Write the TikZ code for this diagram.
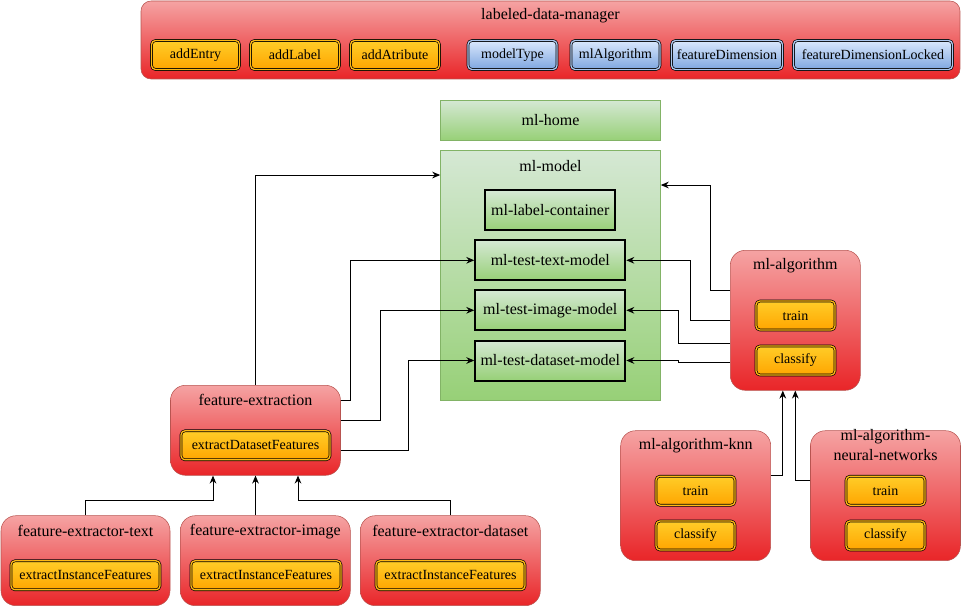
\documentclass[tikz,border=0pt]{standalone}
\usepackage{fontspec}
\setmainfont{Liberation Serif}
\usetikzlibrary{arrows.meta}
\newdimen\unitpx \unitpx=0.75pt

\definecolor{redtop}{HTML}{F5A3A3}
\definecolor{redbot}{HTML}{E92528}
\definecolor{redline}{HTML}{B85450}
\definecolor{orgtop}{HTML}{FFCD28}
\definecolor{orgbot}{HTML}{FFA500}
\definecolor{bluetop}{HTML}{DAE8FC}
\definecolor{bluebot}{HTML}{7EA6E0}
\definecolor{grntop}{HTML}{D5E8D4}
\definecolor{grnbot}{HTML}{97D077}
\definecolor{grnline}{HTML}{82B366}

\tikzset{
  comp/.style 2 args={draw=redline, rounded corners=15\unitpx, top color=redtop, bottom color=redbot,
    minimum width=#1\unitpx, minimum height=#2\unitpx, inner sep=0pt},
  pane/.style 2 args={draw=grnline, top color=grntop, bottom color=grnbot,
    minimum width=#1\unitpx, minimum height=#2\unitpx, inner sep=0pt},
  part/.style={draw=black, line width=1.5pt, top color=grntop, bottom color=grnbot,
    minimum width=#1\unitpx, minimum height=40\unitpx, inner sep=0pt},
  method/.style={draw=black, double=orgtop!50!orgbot, double distance=1pt, line width=0.5pt,
    rounded corners=4\unitpx, top color=orgtop, bottom color=orgbot,
    minimum width=#1\unitpx, minimum height=29\unitpx, inner sep=0pt, font=\fontsize{10.5}{12}\selectfont},
  field/.style={method=#1, double=bluetop!50!bluebot, top color=bluetop, bottom color=bluebot},
  title/.style={inner sep=0pt, align=center},
  arr/.style={draw=black, line width=0.75pt, -{Stealth[length=6pt,width=5pt]}}
}

\begin{document}
\begin{tikzpicture}[x=0.75pt,y=-0.75pt,font=\fontsize{12}{15}\selectfont]
\useasboundingbox (0,0) rectangle (961,606);

% labeled-data-manager
\node[comp={819}{78}, rounded corners=10\unitpx] (ldm) at (550.5,40) {};
\node[title] (ldm-t) at ([yshift=-15\unitpx]ldm.north) {labeled-data-manager};
\node[method=88] (add-entry) at (195.5,55) {addEntry};
\node[method=89] (add-label) at (295,55) {addLabel};
\node[method=89] (add-atr) at (395,55) {addAtribute};
\node[field=89] (model-type) at (512.5,55) {modelType};
\node[field=89] (ml-algo) at (615.5,55) {mlAlgorithm};
\node[field=111] (feat-dim) at (727,55) {featureDimension};
\node[field=159] (feat-lock) at (873,55) {featureDimensionLocked};

% ml-home and ml-model
\node[pane={220}{40}] (home) at (550.5,120.3) {ml-home};
\node[pane={220}{250}] (model) at (550.5,275.3) {};
\node[title] (model-t) at ([yshift=-15.5\unitpx]model.north) {ml-model};
\node[part=130] (label-box) at (550.3,210.5) {ml-label-container};
\node[part=150] (t-text) at (550.3,260.3) {ml-test-text-model};
\node[part=150] (t-image) at (550.3,310.3) {ml-test-image-model};
\node[part=150] (t-data) at (550.3,360.5) {ml-test-dataset-model};

% feature extraction
\node[comp={170}{90}] (fx) at (255.5,430.3) {};
\node[title] (fx-t) at ([yshift=-15\unitpx]fx.north) {feature-extraction};
\node[method=149] (fx-m) at (255.5,445.3) {extractDatasetFeatures};

\node[comp={169}{90}] (fx-text) at (85.5,560.7) {};
\node[title] (fx-text-t) at ([yshift=-16\unitpx]fx-text.north) {feature-extractor-text};
\node[method=149] (fx-text-m) at (85.5,575.3) {extractInstanceFeatures};

\node[comp={170}{90}] (fx-img) at (265.3,560.7) {};
\node[title] (fx-img-t) at ([yshift=-16\unitpx]fx-img.north) {feature-extractor-image};
\node[method=150] (fx-img-m) at (266,575.3) {extractInstanceFeatures};

\node[comp={180}{90}] (fx-data) at (450.3,560.7) {};
\node[title] (fx-data-t) at ([yshift=-16\unitpx]fx-data.north) {feature-extractor-dataset};
\node[method=149] (fx-data-m) at (450.5,575.3) {extractInstanceFeatures};

% ml algorithms
\node[comp={130}{140}] (algo) at (795.3,320.3) {};
\node[title] (algo-t) at ([yshift=-16\unitpx]algo.north) {ml-algorithm};
\node[method=79] (algo-train) at (795.5,315.5) {train};
\node[method=79] (algo-cls) at (795.5,360.5) {classify};

\node[comp={150}{130}] (knn) at (695.7,495.7) {};
\node[title] (knn-t) at ([yshift=-15\unitpx]knn.north) {ml-algorithm-knn};
\node[method=79] (knn-train) at (695.5,490.7) {train};
\node[method=79] (knn-cls) at (695.5,535.5) {classify};

\node[comp={150}{130}] (nn) at (885.5,495.7) {};
\node[title] (nn-t) at ([yshift=-15\unitpx]nn.north) {ml-algorithm-\\neural-networks};
\node[method=79] (nn-train) at (885.5,490.7) {train};
\node[method=79] (nn-cls) at (885.5,535.5) {classify};

% connectors
\draw[arr] (fx.north) |- ([yshift=-25\unitpx]model.north west);
\draw[arr] ([yshift=30\unitpx]fx.east) -- ++(10,0) |- (t-text.west);
\draw[arr] ([yshift=10\unitpx]fx.east) -- ++(40,0) |- (t-image.west);
\draw[arr] ([yshift=-20\unitpx]fx.east) -- ++(68,0) |- (t-data.west);

\draw[arr] ([yshift=30\unitpx]algo.west) -- ++(-20,0) |- ([yshift=-35\unitpx]model.north east);
\draw[arr] (algo.west) -- ++(-40,0) |- (t-text.east);
\draw[arr] ([yshift=-23\unitpx]algo.west) -- ++(-52,0) |- (t-image.east);
\draw[arr] ([yshift=-42\unitpx]algo.west) -- ++(-52,0) |- (t-data.east);

\draw[arr] ([yshift=20\unitpx]knn.east) -| ([xshift=-12.5\unitpx]algo.south);
\draw[arr] ([yshift=15.5\unitpx]nn.west) -| (algo.south);

\draw[arr] (fx-text.north) -- ++(0,-15) -| ([xshift=-42.5\unitpx]fx.south);
\draw[arr] (fx.south |- fx-img.north) -- (fx.south);
\draw[arr] (fx-data.north) -- ++(0,-15) -| ([xshift=42.5\unitpx]fx.south);
\end{tikzpicture}
\end{document}
